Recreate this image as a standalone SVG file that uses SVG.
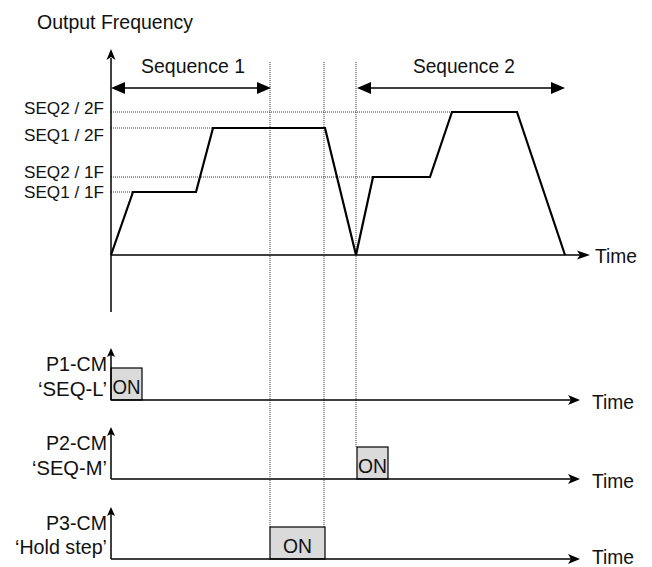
<svg xmlns="http://www.w3.org/2000/svg" width="652" height="567" viewBox="0 0 652 567">
<style>
text{font-family:"Liberation Sans",Arial,sans-serif;fill:#111}
.t{font-size:21px}
.s{font-size:17px}
.r{text-anchor:end}
.m{text-anchor:middle}
.ax{stroke:#000;stroke-width:1.5;fill:none}
.dot{stroke:#333;stroke-width:1;stroke-dasharray:1 1;fill:none}
.wave{stroke:#000;stroke-width:2.2;fill:none;stroke-linejoin:miter}
.on{fill:#dadada;stroke:#000;stroke-width:1.2}
</style>
<defs>
<marker id="barb" viewBox="0 0 12 10" refX="3" refY="5" markerWidth="12" markerHeight="10" orient="auto" markerUnits="userSpaceOnUse"><path d="M0,0 L12,5 L0,10 L3,5 Z" fill="#000"/></marker>
<marker id="barbS" viewBox="0 0 9 8" refX="2" refY="4" markerWidth="9" markerHeight="8" orient="auto" markerUnits="userSpaceOnUse"><path d="M0,0 L9,4 L0,8 L2,4 Z" fill="#000"/></marker>
<marker id="tri" viewBox="0 0 14 12" refX="4" refY="6" markerWidth="14" markerHeight="12" orient="auto-start-reverse" markerUnits="userSpaceOnUse"><path d="M0,0 L14,6 L0,12 Z" fill="#000"/></marker>
</defs>
<g id="guides">
<line class="dot" x1="270" y1="62" x2="270" y2="527"/>
<line class="dot" x1="324" y1="62" x2="324" y2="527"/>
<line class="dot" x1="356" y1="62" x2="356" y2="447"/>
<line class="dot" x1="111" y1="112" x2="452" y2="112"/>
<line class="dot" x1="111" y1="128" x2="213" y2="128"/>
<line class="dot" x1="111" y1="177" x2="373" y2="177"/>
<line class="dot" x1="111" y1="192" x2="133" y2="192"/>
</g>
<g id="freq-axes">
<line class="ax" x1="111" y1="312" x2="111" y2="58"/>
<line class="ax" x1="111" y1="255" x2="581" y2="255"/>
<path d="M111,49 L115.5,60 L111,57 L106.5,60 Z" fill="#000"/>
<path d="M590,255 L577,250.5 L580,255 L577,259.5 Z" fill="#000"/>
<text class="t" x="37" y="29" textLength="156" lengthAdjust="spacingAndGlyphs">Output Frequency</text>
<text class="t" x="595" y="263" textLength="42" lengthAdjust="spacingAndGlyphs">Time</text>
</g>
<g id="freq-labels">
<text class="s r" x="104" y="113.5" textLength="80" lengthAdjust="spacingAndGlyphs">SEQ2 / 2F</text>
<text class="s r" x="104" y="141" textLength="80" lengthAdjust="spacingAndGlyphs">SEQ1 / 2F</text>
<text class="s r" x="104" y="177.5" textLength="80" lengthAdjust="spacingAndGlyphs">SEQ2 / 1F</text>
<text class="s r" x="104" y="197.5" textLength="80" lengthAdjust="spacingAndGlyphs">SEQ1 / 1F</text>
</g>
<g id="sequence-1">
<line class="ax" x1="121" y1="88" x2="261" y2="88" stroke-width="2" marker-start="url(#tri)" marker-end="url(#tri)"/>
<text class="t" x="141" y="73" textLength="104" lengthAdjust="spacingAndGlyphs">Sequence 1</text>
</g>
<g id="sequence-2">
<line class="ax" x1="367" y1="88" x2="555" y2="88" stroke-width="2" marker-start="url(#tri)" marker-end="url(#tri)"/>
<text class="t" x="413" y="73" textLength="102" lengthAdjust="spacingAndGlyphs">Sequence 2</text>
</g>
<g id="waveform">
<polyline class="wave" points="111,255 133,192 196,192 213,128 325,128 356,255 373,177 430,177 452,112 517,112 565,255"/>
</g>
<g id="p1-cm">
<rect class="on" x="111" y="368" width="31" height="32"/>
<text class="t" x="112.5" y="394" textLength="28" lengthAdjust="spacingAndGlyphs">ON</text>
<text class="t r" x="107" y="370.5" textLength="61" lengthAdjust="spacingAndGlyphs">P1-CM</text>
<text class="t r" x="107" y="395.5" textLength="69" lengthAdjust="spacingAndGlyphs">‘SEQ-L’</text>
</g>
<g id="p2-cm">
<rect class="on" x="357" y="447" width="31" height="32"/>
<text class="t" x="358" y="473" textLength="29" lengthAdjust="spacingAndGlyphs">ON</text>
<text class="t r" x="107" y="450" textLength="61" lengthAdjust="spacingAndGlyphs">P2-CM</text>
<text class="t r" x="107" y="475" textLength="75" lengthAdjust="spacingAndGlyphs">‘SEQ-M’</text>
</g>
<g id="p3-cm">
<rect class="on" x="270" y="527" width="55" height="32"/>
<text class="t m" x="297.5" y="552.5" textLength="29" lengthAdjust="spacingAndGlyphs">ON</text>
<text class="t r" x="107" y="529.5" textLength="61" lengthAdjust="spacingAndGlyphs">P3-CM</text>
<text class="t r" x="107" y="553.5" textLength="92" lengthAdjust="spacingAndGlyphs">‘Hold step’</text>
</g>
<g id="connectors">
<line class="ax" x1="111" y1="400" x2="111" y2="355" marker-end="url(#barbS)"/>
<line class="ax" x1="111" y1="400" x2="571" y2="400" marker-end="url(#barb)"/>
<text class="t" x="592" y="409" textLength="42" lengthAdjust="spacingAndGlyphs">Time</text>
<line class="ax" x1="111" y1="479" x2="111" y2="434" marker-end="url(#barbS)"/>
<line class="ax" x1="111" y1="479" x2="571" y2="479" marker-end="url(#barb)"/>
<text class="t" x="592" y="488" textLength="42" lengthAdjust="spacingAndGlyphs">Time</text>
<line class="ax" x1="111" y1="559" x2="111" y2="514" marker-end="url(#barbS)"/>
<line class="ax" x1="111" y1="559" x2="571" y2="559" marker-end="url(#barb)"/>
<text class="t" x="592" y="564" textLength="42" lengthAdjust="spacingAndGlyphs">Time</text>
</g>
</svg>
